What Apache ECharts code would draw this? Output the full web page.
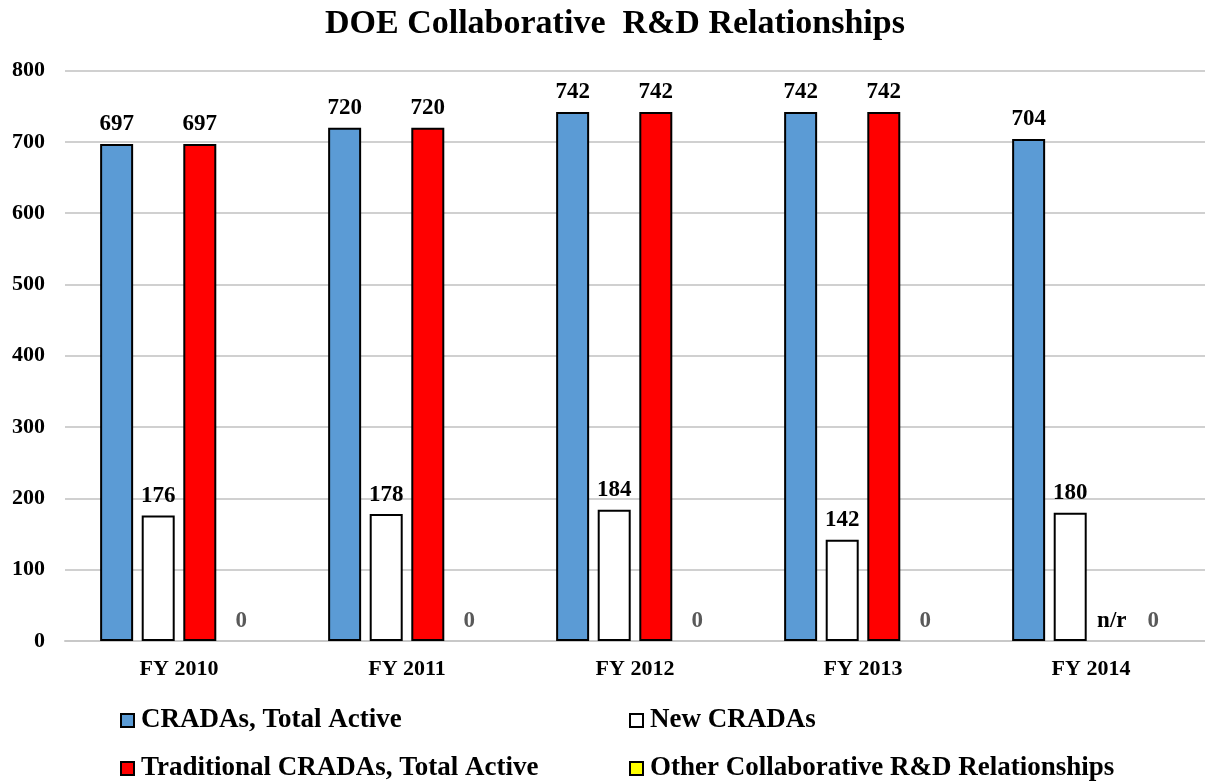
<!DOCTYPE html>
<html>
<head>
<meta charset="utf-8">
<script src="https://cdn.jsdelivr.net/npm/echarts@6/dist/echarts.min.js"></script>
<style>
html,body{margin:0;padding:0;background:#fff;}
#chart{width:1205px;height:782px;}
</style>
</head>
<body>
<div id="chart"></div>
<script>
const categories = ['FY 2010', 'FY 2011', 'FY 2012', 'FY 2013', 'FY 2014'];
const seriesNames = ['CRADAs, Total Active', 'New CRADAs', 'Traditional CRADAs, Total Active', 'Other Collaborative R&D Relationships'];
const totalActive = [697, 720, 742, 742, 704];
const newCradas = [176, 178, 184, 142, 180];
const traditional = [697, 720, 742, 742, null]; // null = not reported (n/r)
const other = [0, 0, 0, 0, 0];
const yTicks = [0, 100, 200, 300, 400, 500, 600, 700, 800];

const FONT = '"Liberation Serif", "Times New Roman", serif';
const colors = ['#5B9BD5', '#FFFFFF', '#FF0000', '#FFFF00'];

function mkData(arr) {
  return arr.map(v => {
    if (v === null) {
      return { value: 0, itemStyle: { borderWidth: 0, color: 'rgba(0,0,0,0)' },
               label: { formatter: 'n/r', color: '#000' } };
    }
    if (v === 0) {
      return { value: 0, itemStyle: { borderWidth: 0 } };
    }
    return v;
  });
}

function mkSeries(i, arr, labelColor) {
  return {
    name: seriesNames[i],
    type: 'bar',
    data: mkData(arr),
    barWidth: 33,
    barGap: '26%',
    itemStyle: { color: colors[i], borderColor: '#000', borderWidth: 2 },
    label: {
      show: true, position: 'top', distance: 8,
      fontFamily: FONT, fontWeight: 'bold', fontSize: 23, color: labelColor
    },
    emphasis: { disabled: true }
  };
}

function mkLegend(i, left, top) {
  return {
    data: [seriesNames[i]],
    left: left, top: top,
    itemWidth: 13, itemHeight: 13,
    icon: 'rect',
    itemStyle: { borderColor: '#000', borderWidth: 2 },
    textStyle: { fontFamily: FONT, fontWeight: 'bold', fontSize: 27, color: '#000', padding: [0,0,0,2] },
    selectedMode: false
  };
}

const chart = echarts.init(document.getElementById('chart'));
chart.setOption({
  animation: false,
  backgroundColor: '#fff',
  title: {
    text: 'DOE Collaborative  R&D Relationships',
    left: 320, top: 2,
    textStyle: { fontFamily: FONT, fontWeight: 'bold', fontSize: 34, color: '#000' }
  },
  legend: [
    mkLegend(0, 115, 702),
    mkLegend(1, 624, 702),
    mkLegend(2, 115, 750),
    mkLegend(3, 624, 750)
  ],
  grid: { left: 65, width: 1149, top: 70.6, bottom: 141, containLabel: false },
  xAxis: {
    type: 'category',
    data: categories,
    axisLine: { show: true, lineStyle: { color: '#c8c8c8', width: 2 } },
    axisTick: { show: false },
    axisLabel: { fontFamily: FONT, fontWeight: 'bold', fontSize: 22, color: '#000', margin: 17 }
  },
  yAxis: {
    type: 'value',
    min: yTicks[0], max: yTicks[yTicks.length - 1], interval: 100,
    axisLine: { show: false },
    axisTick: { show: false },
    splitLine: { lineStyle: { color: '#d0d0d0', width: 2 } },
    axisLabel: { fontFamily: FONT, fontWeight: 'bold', fontSize: 22, color: '#000', margin: 20 }
  },
  series: [
    mkSeries(0, totalActive, '#000'),
    mkSeries(1, newCradas, '#000'),
    mkSeries(2, traditional, '#000'),
    mkSeries(3, other, '#595959')
  ]
});
</script>
</body>
</html>
